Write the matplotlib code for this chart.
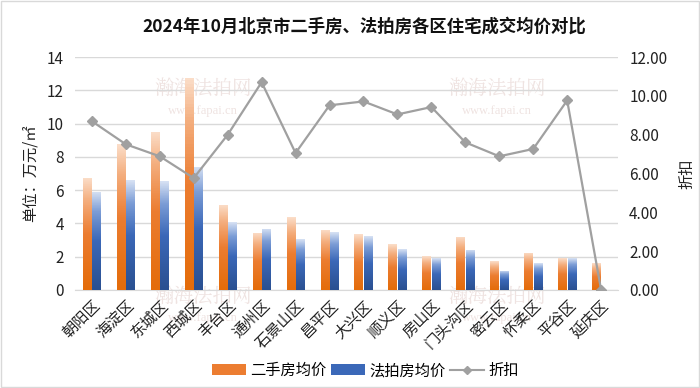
import matplotlib
matplotlib.use("Agg")
import matplotlib.pyplot as plt
import numpy as np
from matplotlib.colors import LinearSegmentedColormap
from matplotlib.lines import Line2D
from matplotlib.patches import Patch

plt.rcParams["font.family"] = ["Noto Sans CJK SC", "DejaVu Sans"]

districts = ["朝阳区", "海淀区", "东城区", "西城区", "丰台区", "通州区", "石景山区", "昌平区", "大兴区",
             "顺义区", "房山区", "门头沟区", "密云区", "怀柔区", "平谷区", "延庆区"]
resale_price = [6.75, 8.77, 9.52, 12.76, 5.14, 3.43, 4.37, 3.61, 3.35, 2.75, 2.02, 3.21, 1.72, 2.24, 1.90, 1.60]
auction_price = [5.90, 6.59, 6.55, 7.40, 4.07, 3.69, 3.04, 3.47, 3.23, 2.46, 1.92, 2.42, 1.17, 1.60, 1.90, 0.0]
discount = [8.70, 7.51, 6.89, 5.77, 8.00, 10.71, 7.06, 9.52, 9.72, 9.05, 9.43, 7.61, 6.89, 7.27, 9.77, 0.0]

orange_cmap = LinearSegmentedColormap.from_list(
    "o", [(0, "#E46C0A"), (0.5, "#EC7D31"), (0.8, "#F4AE7E"), (1, "#FBDDC8")])
blue_cmap = LinearSegmentedColormap.from_list(
    "b", [(0, "#2A5091"), (0.5, "#3B68B8"), (0.8, "#7C9DD6"), (1, "#D5E0F3")])

fig = plt.figure(figsize=(7.0, 3.88), dpi=100)
ax = fig.add_axes([0.107, 0.2526, 0.776, 0.600])
ax2 = ax.twinx()
ax.patch.set_visible(False)

x = np.arange(len(districts))
width = 0.25
offset = 0.14
grad = np.linspace(0, 1, 64).reshape(-1, 1)


def gradient_bars(xpos, values, cmap):
    bars = ax.bar(xpos, values, width, facecolor="none", edgecolor="none", zorder=3)
    for bar, v in zip(bars, values):
        if v <= 0:
            continue
        x0 = bar.get_x()
        img = ax.imshow(grad, cmap=cmap, aspect="auto", origin="lower",
                        extent=(x0, x0 + bar.get_width(), 0, v), zorder=3)
        img.set_clip_path(bar)


gradient_bars(x - offset, resale_price, orange_cmap)
gradient_bars(x + offset, auction_price, blue_cmap)

ax.set_xlim(-0.5, len(districts) - 0.5)
ax.set_ylim(0, 14)
ax.set_yticks(np.arange(0, 15, 2))
ax.grid(axis="y", color="#D9D9D9", linewidth=1.0, zorder=0)
ax.set_axisbelow(True)
for s in ax.spines.values():
    s.set_visible(False)
ax.spines["bottom"].set_visible(True)
ax.spines["bottom"].set_color("#D9D9D9")
ax.tick_params(axis="both", length=0, labelsize=11, colors="#222222")
ax.tick_params(axis="y", pad=8)
ax.tick_params(axis="x", pad=5)
ax.set_xticks(x)
ax.set_xticklabels(districts, rotation=45, ha="right", va="top", rotation_mode="anchor", fontsize=11)
ax.set_ylabel("单位：万元/㎡", fontsize=11, color="#222222", labelpad=6)

ax2.plot(x, discount, color="#A0A0A0", linewidth=1.6, marker="D", markersize=5,
         markerfacecolor="#A0A0A0", markeredgecolor="#A0A0A0", zorder=5)
ax2.set_ylim(0, 12)
ax2.set_yticks(np.arange(0, 13, 2))
ax2.set_yticklabels([f"{v:.2f}" for v in np.arange(0, 13, 2)])
for s in ax2.spines.values():
    s.set_visible(False)
ax2.tick_params(axis="y", length=0, labelsize=11, colors="#222222", pad=8)
ax2.set_ylabel("折扣", fontsize=11, color="#222222", labelpad=8)

# faint watermarks behind the plot
for wx, wy in [(0.29, 0.77), (0.71, 0.77), (0.29, 0.235), (0.71, 0.235)]:
    fig.text(wx, wy, "瀚海法拍网", fontsize=14, color="#EFE3E1", ha="center", va="center",
             family=["Noto Serif CJK SC", "Noto Sans CJK SC"], zorder=-1)
    fig.text(wx, wy - 0.055, "www.fapai.cn", fontsize=9, color="#EFE3E1", ha="center", va="center",
             family="Liberation Serif", zorder=-1)

fig.suptitle("2024年10月北京市二手房、法拍房各区住宅成交均价对比", x=0.52, y=0.955,
             fontsize=12.5, fontweight="bold", color="#111111")

handles = [Patch(facecolor="#EC7D31"), Patch(facecolor="#3B68B8"),
           Line2D([], [], color="#A0A0A0", marker="D", markersize=4, linewidth=1.5)]
fig.legend(handles, ["二手房均价", "法拍房均价", "折扣"], loc="center", bbox_to_anchor=(0.522, 0.045),
           ncol=3, frameon=False, fontsize=11, handlelength=2.2, handletextpad=0.3, columnspacing=0.3)

fig.patches.append(plt.Rectangle((0.001, 0.002), 0.997, 0.996, transform=fig.transFigure,
                                 fill=False, edgecolor="#D9D9D9", linewidth=1))
fig.savefig("out.png", dpi=100)
